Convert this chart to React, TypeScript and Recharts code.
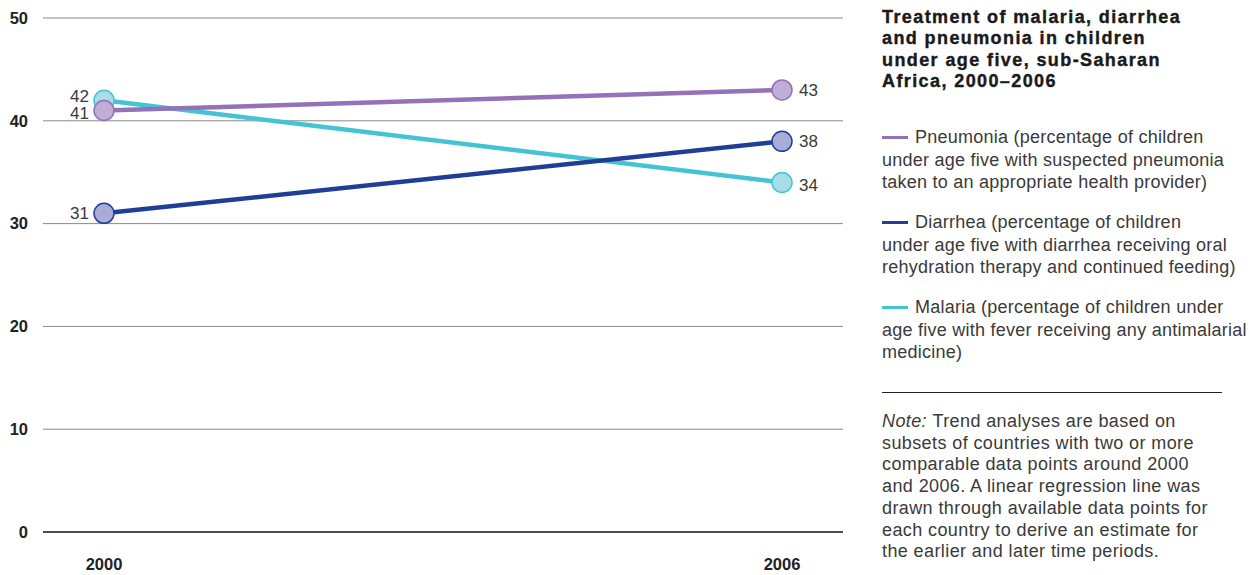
import { LineChart, Line, XAxis, YAxis, CartesianGrid, ReferenceLine, LabelList } from 'recharts'

const YEARS = ['2000', '2006']
const PNEUMONIA = [41, 43]
const DIARRHEA = [31, 38]
const MALARIA = [42, 34]
const Y_TICKS = [0, 10, 20, 30, 40, 50]

const SERIES = [
  { key: 'malaria', values: MALARIA, stroke: '#45c3d3', fill: '#a8dde5', dy: [-4, 3] },
  { key: 'diarrhea', values: DIARRHEA, stroke: '#1f3f96', fill: '#a9acd6', dy: [0, 0] },
  { key: 'pneumonia', values: PNEUMONIA, stroke: '#9472b8', fill: '#c0aed6', dy: [3, 0] },
]

const TITLE_LINES = [
  'Treatment of malaria, diarrhea',
  'and pneumonia in children',
  'under age five, sub-Saharan',
  'Africa, 2000–2006',
]

const LEGEND = [
  {
    color: '#9472b8',
    lines: [
      'Pneumonia (percentage of children',
      'under age five with suspected pneumonia',
      'taken to an appropriate health provider)',
    ],
    top: 126,
  },
  {
    color: '#1f3f96',
    lines: [
      'Diarrhea (percentage of children',
      'under age five with diarrhea receiving oral',
      'rehydration therapy and continued feeding)',
    ],
    top: 211,
  },
  {
    color: '#45c3d3',
    lines: [
      'Malaria (percentage of children under',
      'age five with fever receiving any antimalarial',
      'medicine)',
    ],
    top: 296,
  },
]

const NOTE_LINES = [
  'Trend analyses are based on',
  'subsets of countries with two or more',
  'comparable data points around 2000',
  'and 2006. A linear regression line was',
  'drawn through available data points for',
  'each country to derive an estimate for',
  'the earlier and later time periods.',
]

const data = YEARS.map((year, i) => ({
  year,
  pneumonia: PNEUMONIA[i],
  diarrhea: DIARRHEA[i],
  malaria: MALARIA[i],
}))

const FONT = '"Liberation Sans", Arial, sans-serif'
const TEXT_COLOR = '#3a3a3a'

function makeLabel(dy: number[]) {
  return (props: any) => {
    const { x, y, value, index } = props
    const left = index === 0
    return (
      <text
        x={left ? x - 15 : x + 17}
        y={y + dy[index]}
        dy="0.35em"
        textAnchor={left ? 'end' : 'start'}
        fontFamily='"Liberation Sans Narrow", "Liberation Sans", Arial, sans-serif'
        fontSize={17}
        fill={TEXT_COLOR}
      >
        {value}
      </text>
    )
  }
}

export default function App() {
  return (
    <div style={{ position: 'absolute', left: 0, top: 0, width: 1251, height: 575, background: '#fff', fontFamily: FONT }}>
      <LineChart width={860} height={575} data={data} margin={{ top: 18, right: 17, bottom: 13, left: 0 }}>
        <CartesianGrid vertical={false} stroke="#8a8a8a" strokeWidth={1} />
        <XAxis
          dataKey="year"
          padding={{ left: 61, right: 61 }}
          axisLine={false}
          tickLine={false}
          tickSize={0}
          tickMargin={26}
          height={30}
          tick={{ fontSize: 16.5, fontWeight: 'bold', fill: '#222', fontFamily: FONT }}
        />
        <YAxis
          domain={[0, 50]}
          ticks={Y_TICKS}
          width={43}
          axisLine={false}
          tickLine={false}
          tickSize={0}
          tickMargin={15}
          tick={{ fontSize: 16.5, fontWeight: 'bold', fill: '#222', fontFamily: FONT }}
        />
        <ReferenceLine y={0} stroke="#222" strokeWidth={1.5} />
        {SERIES.map((s) => (
          <Line
            key={s.key}
            dataKey={s.key}
            stroke={s.stroke}
            strokeWidth={4.5}
            dot={{ r: 10, fill: s.fill, stroke: s.stroke, strokeWidth: 1.5 }}
            activeDot={false}
            isAnimationActive={false}
          >
            <LabelList dataKey={s.key} content={makeLabel(s.dy)} />
          </Line>
        ))}
      </LineChart>

      <div
        style={{
          position: 'absolute',
          left: 882,
          top: 7,
          fontSize: 18,
          lineHeight: '21.3px',
          fontWeight: 900,
          letterSpacing: 1.4,
          WebkitTextStroke: '0.4px #1a1a1a',
          color: '#1a1a1a',
          whiteSpace: 'nowrap',
        }}
      >
        {TITLE_LINES.map((l) => (
          <div key={l}>{l}</div>
        ))}
      </div>

      {LEGEND.map((item) => (
        <div
          key={item.color}
          style={{ position: 'absolute', left: 882, top: item.top, fontSize: 18, lineHeight: '22.5px', letterSpacing: 0.25, color: TEXT_COLOR, whiteSpace: 'nowrap' }}
        >
          <div style={{ position: 'absolute', left: 0, top: 10, width: 26, height: 3, background: item.color }} />
          {item.lines.map((l, i) => (
            <div key={l} style={{ paddingLeft: i === 0 ? 33 : 0 }}>{l}</div>
          ))}
        </div>
      ))}

      <div style={{ position: 'absolute', left: 882, top: 392, width: 340, height: 1, background: '#222' }} />

      <div style={{ position: 'absolute', left: 882, top: 411, fontSize: 18, lineHeight: '21.7px', letterSpacing: 0.4, color: TEXT_COLOR, whiteSpace: 'nowrap' }}>
        {NOTE_LINES.map((l, i) => (
          <div key={l}>
            {i === 0 && <i>Note: </i>}
            {l}
          </div>
        ))}
      </div>
    </div>
  )
}
